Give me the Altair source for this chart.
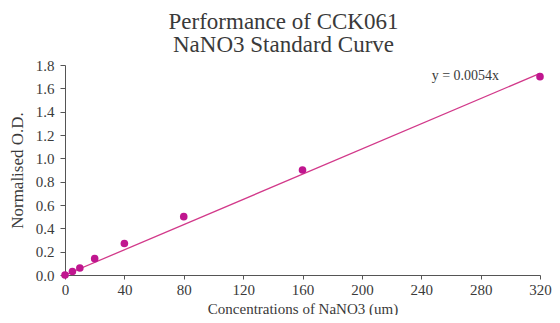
import altair as alt
import pandas as pd

conc = [0, 5, 10, 20, 40, 80, 160, 320]
od = [0.0, 0.03, 0.06, 0.14, 0.27, 0.50, 0.90, 1.70]
slope = 0.0054
line_x = [0, 320]
x_ticks = [0, 40, 80, 120, 160, 200, 240, 280, 320]
y_ticks = [0.0, 0.2, 0.4, 0.6, 0.8, 1.0, 1.2, 1.4, 1.6, 1.8]
eq_label = "y = 0.0054x"

pts = pd.DataFrame({"x": conc, "y": od})
fit = pd.DataFrame({"x": line_x, "y": [slope * v for v in line_x]})
lab = pd.DataFrame({"x": [247], "y": [1.71], "t": [eq_label]})

FONT = "Liberation Serif"

xs = alt.Scale(domain=[0, 320], nice=False)
ys = alt.Scale(domain=[0, 1.8], nice=False)

xax = alt.Axis(values=x_ticks, title="Concentrations  of NaNO3 (um)", grid=False,
               labelFont=FONT, labelFontSize=15, labelColor="#3a3a3a", titleFont=FONT,
               titleFontSize=15, titleFontWeight="normal", titleColor="#3a3a3a",
               domainColor="#555", tickColor="#555", tickSize=4, labelPadding=3,
               titlePadding=4, labelOverlap=False, labelFlush=False, labelBound=False)
yax = alt.Axis(values=y_ticks, format=".1f", title="Normalised O.D.", grid=False,
               labelFont=FONT, labelFontSize=15, labelColor="#3a3a3a", titleFont=FONT,
               titleFontSize=17, titleFontWeight="normal", titleColor="#3a3a3a",
               domainColor="#555", tickColor="#555", tickSize=5, labelPadding=6,
               titlePadding=9, labelOverlap=False, labelFlush=False, labelBound=False)

X = alt.X("x:Q", scale=xs, axis=xax)
Y = alt.Y("y:Q", scale=ys, axis=yax)

line = alt.Chart(fit).mark_line(color="#d2398a", strokeWidth=1.3).encode(x=X, y=Y)
points = alt.Chart(pts).mark_circle(color="#c0168f", size=58, opacity=1).encode(x=X, y=Y)
text = alt.Chart(lab).mark_text(font=FONT, fontSize=14, align="left", color="#3a3a3a").encode(
    x=X, y=Y, text="t:N",
)

chart = (line + points + text).properties(
    width=475,
    height=210,
    title=alt.TitleParams(
        text=["Performance of CCK061", "NaNO3 Standard Curve"],
        font=FONT, fontSize=23, fontWeight="normal", color="#3a3a3a",
        anchor="middle", lineHeight=23, offset=1, dx=-19,
    ),
    autosize=alt.AutoSizeParams(type="none"),
    padding={"left": 57, "top": 57, "right": 12, "bottom": 40},
).configure_view(stroke=None).configure_axisY(labelOverlap=False)

chart.save("out.html", embed_options={"renderer": "svg", "actions": False})
